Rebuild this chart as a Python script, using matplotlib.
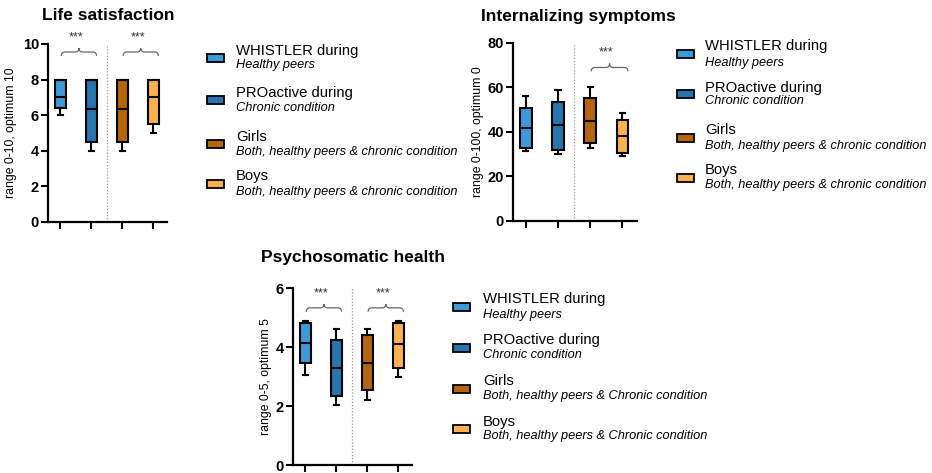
import matplotlib
matplotlib.use("Agg")
import matplotlib.pyplot as plt
from matplotlib.patches import Rectangle, PathPatch
from matplotlib.path import Path
import matplotlib.transforms as mtransforms

plt.rcParams['font.family'] = ['Liberation Sans', 'DejaVu Sans']

# group colours: WHISTLER, PROactive, Girls, Boys
colors = ['#3d9ad8', '#2475b0', '#b5650a', '#fbb24d']
group_titles = ['WHISTLER during', 'PROactive during', 'Girls', 'Boys']

# five-number summaries per group: whislo, q1, median, q3, whishi
life_whislo = [6.0, 4.0, 4.0, 5.0]
life_q1 = [6.4, 4.5, 4.5, 5.5]
life_med = [7.0, 6.35, 6.35, 7.0]
life_q3 = [8.0, 8.0, 8.0, 8.0]
life_whishi = [8.0, 8.0, 8.0, 8.0]

intern_whislo = [31.5, 30.0, 33.0, 29.0]
intern_q1 = [33.0, 32.0, 35.0, 30.5]
intern_med = [42.0, 43.0, 45.0, 38.0]
intern_q3 = [51.0, 53.5, 55.5, 45.5]
intern_whishi = [56.0, 59.0, 60.0, 48.5]

psy_whislo = [3.05, 2.05, 2.2, 3.0]
psy_q1 = [3.45, 2.35, 2.55, 3.3]
psy_med = [4.15, 3.3, 3.45, 4.1]
psy_q3 = [4.8, 4.25, 4.4, 4.8]
psy_whishi = [4.9, 4.6, 4.6, 4.9]

fig = plt.figure(figsize=(9.32, 4.73), dpi=100)


def brace(ax, p1, p2, yfrac, stars='***'):
    """Curly brace between two boxes with significance stars above."""
    trans = mtransforms.blended_transform_factory(ax.transData, ax.transAxes)
    c = (p1 + p2) / 2 + 0.1
    h = 0.57
    x0, x1 = c - h, c + h
    d = 0.022
    e = 0.12
    verts = [(x0, yfrac - d), (x0, yfrac), (x0 + e, yfrac),
             (c - e, yfrac), (c, yfrac), (c, yfrac + d),
             (c, yfrac), (c + e, yfrac),
             (x1 - e, yfrac), (x1, yfrac), (x1, yfrac - d)]
    codes = [Path.MOVETO, Path.CURVE3, Path.CURVE3,
             Path.LINETO, Path.CURVE3, Path.CURVE3,
             Path.CURVE3, Path.CURVE3,
             Path.LINETO, Path.CURVE3, Path.CURVE3]
    ax.add_patch(PathPatch(Path(verts, codes), transform=trans, fill=False,
                           lw=0.9, edgecolor='#666666', clip_on=False))
    ax.text(c - 0.1, yfrac + 0.05, stars, transform=trans, ha='center',
            va='bottom', fontsize=9, color='#333333')


def panel(rect, ylabel, whislo, q1, med, q3, whishi, ymax, yticks, braces,
          label_x):
    ax = fig.add_axes(rect)
    stats = []
    for i in range(4):
        stats.append(dict(whislo=whislo[i], q1=q1[i], med=med[i], q3=q3[i],
                          whishi=whishi[i], fliers=[]))
    bp = ax.bxp(stats, positions=[1, 2, 3, 4], widths=0.36, patch_artist=True,
                showfliers=False,
                boxprops=dict(linewidth=1.5, edgecolor='black'),
                medianprops=dict(color='black', linewidth=1.5),
                whiskerprops=dict(color='black', linewidth=1.5),
                capprops=dict(color='black', linewidth=1.5),
                capwidths=0.16)
    for patch, col in zip(bp['boxes'], colors):
        patch.set_facecolor(col)
    ax.axvline(2.5, color='#999999', lw=0.9, ls=(0, (1, 1.5)))
    ax.set_xlim(0.6, 4.45)
    ax.set_ylim(0, ymax)
    ax.set_yticks(yticks)
    ax.set_xticks([1, 2, 3, 4])
    ax.set_xticklabels([])
    for side in ['top', 'right']:
        ax.spines[side].set_visible(False)
    for side in ['left', 'bottom']:
        ax.spines[side].set_linewidth(1.6)
    ax.tick_params(width=1.5, length=5, labelsize=10.5, pad=1.5)
    for lab in ax.get_yticklabels():
        lab.set_fontweight('bold')
    ax.set_ylabel(ylabel, fontsize=8.8)
    ax.yaxis.set_label_coords(label_x, 0.5)
    for p1, p2, yv in braces:
        brace(ax, p1, p2, yv / ymax)
    return ax


ax1 = panel([0.0515, 0.5307, 0.1277, 0.3763], 'range 0-10, optimum 10',
            life_whislo, life_q1, life_med, life_q3, life_whishi,
            10, [0, 2, 4, 6, 8, 10], [(1, 2, 9.55), (3, 4, 9.55)], -0.26)
ax2 = panel([0.5504, 0.5328, 0.133, 0.3763], 'range 0-100, optimum 0',
            intern_whislo, intern_q1, intern_med, intern_q3, intern_whishi,
            80, [0, 20, 40, 60, 80], [(3, 4, 69)], -0.235)
ax3 = panel([0.3144, 0.0169, 0.1277, 0.374], 'range 0-5, optimum 5',
            psy_whislo, psy_q1, psy_med, psy_q3, psy_whishi,
            6, [0, 2, 4, 6], [(1, 2, 5.33), (3, 4, 5.33)], -0.18)

# panel headings
fig.text(42 / 932, 1 - 16 / 473, 'Life satisfaction', fontsize=12.5,
         fontweight='bold', va='center')
fig.text(481 / 932, 1 - 16 / 473, 'Internalizing symptoms', fontsize=12.5,
         fontweight='bold', va='center')
fig.text(261 / 932, 1 - 257 / 473, 'Psychosomatic health', fontsize=12.5,
         fontweight='bold', va='center')


def legend(px, tx, ys, subtitles):
    for col, name, sub, (y1, y2) in zip(colors, group_titles, subtitles, ys):
        yc = (y1 + y2) / 2
        fig.add_artist(Rectangle((px / 932, 1 - (yc + 4) / 473),
                                 17 / 932, 8 / 473, facecolor=col,
                                 edgecolor='black', lw=1.3,
                                 transform=fig.transFigure))
        fig.text(tx / 932, 1 - y1 / 473, name, fontsize=10.7, va='center')
        fig.text(tx / 932, 1 - y2 / 473, sub, fontsize=9.2, va='center',
                 style='italic')


subs_a = ['Healthy peers', 'Chronic condition',
          'Both, healthy peers & chronic condition',
          'Both, healthy peers & chronic condition']
subs_b = ['Healthy peers', 'Chronic condition',
          'Both, healthy peers & Chronic condition',
          'Both, healthy peers & Chronic condition']

legend(207, 236, [(51, 65), (93, 108), (137, 152), (176, 192)], subs_a)
legend(677, 705, [(46, 63), (88, 101), (130, 146), (170, 185)], subs_a)
legend(453, 483, [(299, 315), (340, 355), (381, 396), (422, 436)], subs_b)

fig.savefig('out.png', dpi=100)
